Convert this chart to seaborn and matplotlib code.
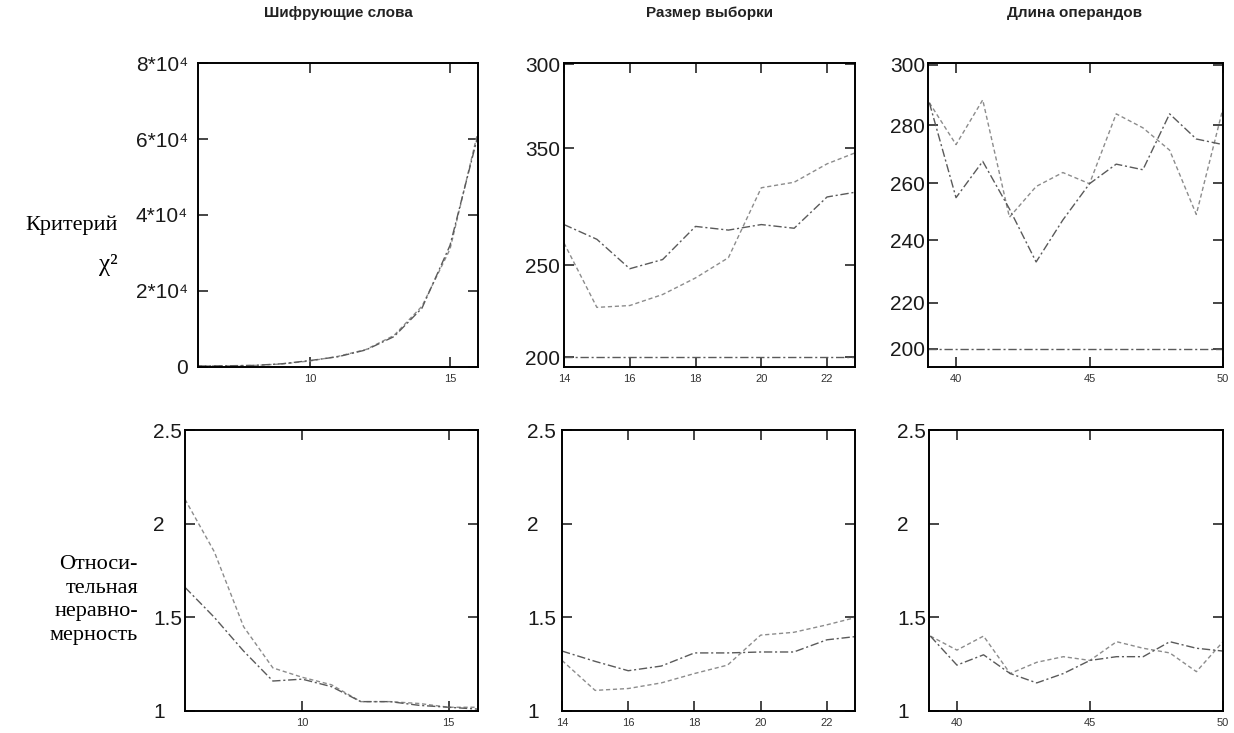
import numpy as np
import pandas as pd
import seaborn as sns
import matplotlib.pyplot as plt

sns.set_style('ticks')
plt.rcParams['font.family'] = ['Liberation Sans', 'DejaVu Sans']

col_titles = ['Шифрующие слова', 'Размер выборки', 'Длина операндов']
row_top = 'Критерий'
row_bottom = 'Относи-\nтельная\nнеравно-\nмерность'

# Шифрующие слова
words_x = [6, 7, 8, 9, 10, 11, 12, 13, 14, 15, 16]
words_chi_a = [300, 300, 400, 800, 1600, 2800, 4600, 8300, 16000, 31000, 62000]
words_chi_b = [250, 320, 420, 850, 1700, 2700, 4500, 8000, 15500, 32000, 61000]
words_rel_a = [2.13, 1.85, 1.45, 1.23, 1.18, 1.14, 1.05, 1.05, 1.04, 1.02, 1.02]
words_rel_b = [1.66, 1.50, 1.32, 1.16, 1.17, 1.13, 1.05, 1.05, 1.03, 1.02, 1.01]

# Размер выборки
sample_x = [14, 15, 16, 17, 18, 19, 20, 21, 22, 23]
sample_chi_a = [262, 227, 228, 234, 243, 254, 292, 295, 305, 312]
sample_chi_b = [272, 264, 248, 253, 271, 269, 272, 270, 287, 290]
sample_rel_a = [1.27, 1.11, 1.12, 1.15, 1.20, 1.245, 1.405, 1.42, 1.46, 1.505]
sample_rel_b = [1.32, 1.265, 1.215, 1.24, 1.31, 1.31, 1.315, 1.315, 1.38, 1.40]

# Длина операндов
oper_x = [39, 40, 41, 42, 43, 44, 45, 46, 47, 48, 49, 50]
oper_chi_a = [288, 273, 289, 247, 258, 263, 259, 284, 279, 271, 248, 286]
oper_chi_b = [288, 254, 267, 250, 231, 246, 259, 266, 264, 284, 275, 273]
oper_rel_a = [1.40, 1.325, 1.40, 1.20, 1.26, 1.29, 1.27, 1.37, 1.335, 1.31, 1.21, 1.37]
oper_rel_b = [1.40, 1.245, 1.30, 1.20, 1.15, 1.20, 1.27, 1.29, 1.29, 1.37, 1.335, 1.32]

chi_limit = 200

W, H = 1234, 733
fig = plt.figure(figsize=(W / 100, H / 100), dpi=100)


def box(x0, x1, y0, y1):
    return [x0 / W, 1 - y1 / H, (x1 - x0) / W, (y1 - y0) / H]


dashed = dict(color='#8c8c8c', lw=1.0, dashes=(3, 2))
dashdot = dict(color='#5a5a5a', lw=1.0, dashes=(6, 2, 1.5, 2))


def draw(ax, x, ya, yb):
    sns.lineplot(x=x, y=ya, ax=ax, **dashed)
    sns.lineplot(x=x, y=yb, ax=ax, **dashdot)


def style(ax, xlim, xticks, ylim, yticks, ylabels, ypad_px, ha='left'):
    ax.set_xlim(xlim)
    ax.set_ylim(ylim)
    ax.set_xticks(xticks)
    ax.set_xticklabels([str(t) for t in xticks])
    ax.set_yticks(yticks)
    ax.set_yticklabels(ylabels)
    ax.tick_params(direction='in', top=True, right=True, length=7, width=1.2)
    ax.tick_params(axis='y', labelsize=15, pad=ypad_px * 0.72, labelcolor='#1a1a1a')
    ax.tick_params(axis='x', labelsize=8, pad=5, labelcolor='#333333')
    plt.setp(ax.get_yticklabels(), ha=ha)
    for s in ax.spines.values():
        s.set_linewidth(1.4)
        s.set_color('black')
    ax.set_xlabel('')
    ax.set_ylabel('')


# top row
ax = fig.add_axes(box(198, 478, 63, 367))
draw(ax, words_x, words_chi_a, words_chi_b)
style(ax, (6, 16), [10, 15], (0, 80000), [0, 20000, 40000, 60000, 80000],
      ['0', '2*10⁴', '4*10⁴', '6*10⁴', '8*10⁴'], 10, ha='right')

ax = fig.add_axes(box(564, 855, 63, 367))
draw(ax, sample_x, sample_chi_a, sample_chi_b)
ax.axhline(chi_limit, **dashdot)
style(ax, (14, 22.85), [14, 16, 18, 20, 22], (194.6, 359.8), [200, 250, 313.6, 359],
      ['200', '250', '350', '300'], 39)

ax = fig.add_axes(box(928, 1223, 63, 367))
draw(ax, oper_x, oper_chi_a, oper_chi_b)
ax.axhline(chi_limit, **dashdot)
style(ax, (38.95, 50), [40, 45, 50], (193.4, 302.2), [200, 216.4, 238.7, 259.2, 280, 301.5],
      ['200', '220', '240', '260', '280', '300'], 38)

# bottom row
ax = fig.add_axes(box(185, 478, 430, 711))
draw(ax, words_x, words_rel_a, words_rel_b)
style(ax, (6, 16), [10, 15], (1, 2.5), [1, 1.5, 2, 2.5], ['1', '1.5', '2', '2.5'], 32)

ax = fig.add_axes(box(562, 855, 430, 711))
draw(ax, sample_x, sample_rel_a, sample_rel_b)
style(ax, (14, 22.85), [14, 16, 18, 20, 22], (1, 2.5), [1, 1.5, 2, 2.5], ['1', '1.5', '2', '2.5'], 35)

ax = fig.add_axes(box(929, 1223, 430, 711))
draw(ax, oper_x, oper_rel_a, oper_rel_b)
style(ax, (38.95, 50), [40, 45, 50], (1, 2.5), [1, 1.5, 2, 2.5], ['1', '1.5', '2', '2.5'], 32)

# titles and row labels
for cx, t in zip([338, 709, 1075], col_titles):
    fig.text(cx / W, 1 - 13 / H, t, ha='center', va='center', fontsize=11,
             weight='bold', color='#222222')

fig.text(118 / W, 1 - 225 / H, row_top, ha='right', va='center',
         family='Liberation Serif', fontsize=16, color='black')
fig.text(118 / W, 1 - 265 / H, 'χ²', ha='right', va='center',
         family=['Liberation Serif', 'DejaVu Serif'], fontsize=18, color='black')
fig.text(138 / W, 1 - 600 / H, row_bottom, ha='right', va='center', multialignment='right',
         family='Liberation Serif', fontsize=16, linespacing=1.35, color='black')

fig.savefig('out.png', dpi=100)
